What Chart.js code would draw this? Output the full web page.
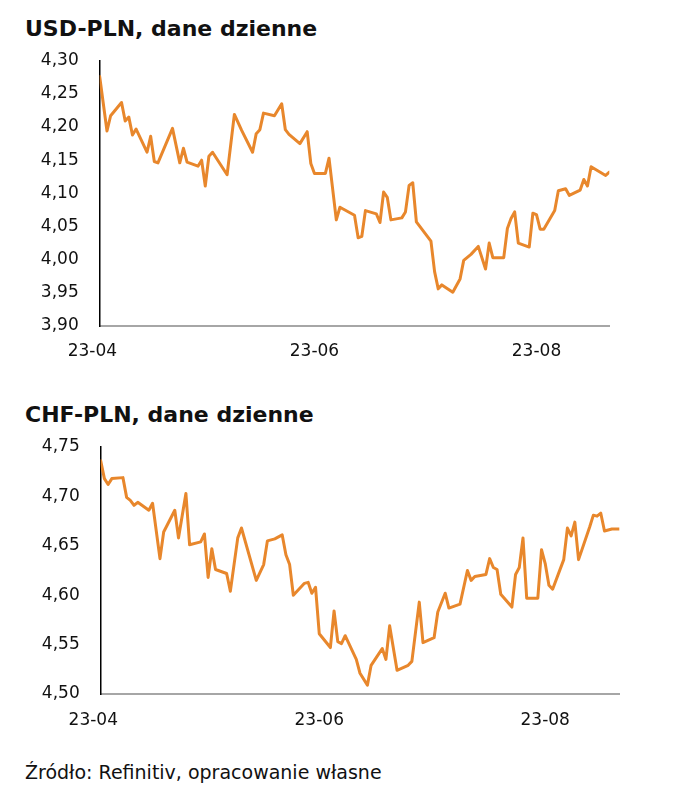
<!DOCTYPE html>
<html>
<head>
<meta charset="utf-8">
<script src="https://cdn.jsdelivr.net/npm/chart.js@4.4.0/dist/chart.umd.min.js"></script>
<style>
  html, body { margin: 0; padding: 0; background: #ffffff; }
  body { width: 674px; height: 800px; position: relative; overflow: hidden; font-family: "DejaVu Sans", Verdana, sans-serif; color: #111; }
  .title { position: absolute; left: 25px; font-weight: bold; font-size: 22px; white-space: nowrap; }
  .src { position: absolute; left: 25px; top: 761px; font-size: 19px; white-space: nowrap; }
  canvas { position: absolute; left: 0; }
</style>
</head>
<body>
<div class="title" style="top:16px">USD-PLN, dane dzienne</div>
<canvas id="c1" width="674" height="380" style="top:0px;width:674px;height:380px"></canvas>
<div class="title" style="top:402px">CHF-PLN, dane dzienne</div>
<canvas id="c2" width="674" height="360" style="top:380px;width:674px;height:360px"></canvas>
<div class="src">Źródło: Refinitiv, opracowanie własne</div>
<script>
// ---- data ----
const usdDates = ["2023-04-03","2023-04-05","2023-04-06","2023-04-09","2023-04-10","2023-04-11","2023-04-12","2023-04-13","2023-04-16","2023-04-17","2023-04-18","2023-04-19","2023-04-23","2023-04-25","2023-04-26","2023-04-27","2023-04-30","2023-05-01","2023-05-02","2023-05-03","2023-05-04","2023-05-08","2023-05-10","2023-05-12","2023-05-15","2023-05-16","2023-05-17","2023-05-18","2023-05-21","2023-05-23","2023-05-24","2023-05-25","2023-05-28","2023-05-30","2023-05-31","2023-06-01","2023-06-04","2023-06-05","2023-06-07","2023-06-08","2023-06-12","2023-06-13","2023-06-14","2023-06-15","2023-06-18","2023-06-19","2023-06-20","2023-06-21","2023-06-22","2023-06-25","2023-06-26","2023-06-27","2023-06-28","2023-06-29","2023-07-03","2023-07-04","2023-07-05","2023-07-06","2023-07-09","2023-07-11","2023-07-12","2023-07-14","2023-07-16","2023-07-18","2023-07-19","2023-07-20","2023-07-23","2023-07-24","2023-07-25","2023-07-26","2023-07-27","2023-07-30","2023-07-31","2023-08-01","2023-08-02","2023-08-03","2023-08-06","2023-08-07","2023-08-09","2023-08-10","2023-08-13","2023-08-14","2023-08-15","2023-08-16","2023-08-20","2023-08-21"];
const usdValues = [4.276,4.194,4.217,4.237,4.209,4.215,4.188,4.197,4.162,4.186,4.148,4.146,4.198,4.146,4.168,4.147,4.141,4.150,4.111,4.156,4.162,4.128,4.219,4.195,4.162,4.190,4.196,4.221,4.217,4.235,4.196,4.189,4.175,4.193,4.145,4.130,4.130,4.153,4.060,4.079,4.067,4.033,4.035,4.074,4.069,4.056,4.102,4.094,4.060,4.063,4.072,4.112,4.116,4.057,4.028,3.982,3.956,3.962,3.951,3.971,3.999,4.008,4.020,3.986,4.025,4.003,4.003,4.047,4.062,4.072,4.025,4.019,4.070,4.068,4.046,4.046,4.074,4.104,4.107,4.097,4.105,4.121,4.111,4.140,4.127,4.132];

const chfDates = ["2023-04-03","2023-04-04","2023-04-05","2023-04-06","2023-04-09","2023-04-10","2023-04-11","2023-04-12","2023-04-13","2023-04-16","2023-04-17","2023-04-19","2023-04-20","2023-04-23","2023-04-24","2023-04-26","2023-04-27","2023-04-30","2023-05-01","2023-05-02","2023-05-03","2023-05-04","2023-05-07","2023-05-08","2023-05-10","2023-05-11","2023-05-15","2023-05-17","2023-05-18","2023-05-20","2023-05-22","2023-05-23","2023-05-24","2023-05-25","2023-05-28","2023-05-29","2023-05-30","2023-05-31","2023-06-01","2023-06-04","2023-06-05","2023-06-06","2023-06-07","2023-06-08","2023-06-11","2023-06-12","2023-06-14","2023-06-15","2023-06-18","2023-06-19","2023-06-20","2023-06-22","2023-06-25","2023-06-26","2023-06-28","2023-06-29","2023-07-02","2023-07-03","2023-07-05","2023-07-06","2023-07-09","2023-07-11","2023-07-12","2023-07-13","2023-07-16","2023-07-17","2023-07-18","2023-07-19","2023-07-20","2023-07-23","2023-07-24","2023-07-25","2023-07-26","2023-07-27","2023-07-30","2023-07-31","2023-08-01","2023-08-02","2023-08-03","2023-08-06","2023-08-07","2023-08-08","2023-08-09","2023-08-10","2023-08-13","2023-08-14","2023-08-15","2023-08-16","2023-08-17","2023-08-19","2023-08-21"];
const chfValues = [4.736,4.718,4.712,4.718,4.719,4.699,4.696,4.691,4.694,4.686,4.693,4.637,4.664,4.686,4.658,4.703,4.651,4.654,4.662,4.618,4.647,4.626,4.622,4.604,4.658,4.668,4.615,4.631,4.655,4.657,4.661,4.641,4.631,4.600,4.612,4.613,4.602,4.608,4.561,4.547,4.584,4.553,4.551,4.559,4.535,4.521,4.509,4.529,4.546,4.535,4.569,4.524,4.529,4.533,4.593,4.552,4.557,4.583,4.602,4.587,4.591,4.625,4.615,4.619,4.621,4.637,4.628,4.626,4.601,4.588,4.621,4.628,4.658,4.597,4.597,4.646,4.632,4.610,4.606,4.636,4.668,4.660,4.674,4.636,4.669,4.681,4.680,4.683,4.665,4.667,4.667];

const xTickDates = ["2023-04-01","2023-06-01","2023-08-01"];
const xTickLabels = ["23-04","23-06","23-08"];
const usdYMin = 3.90, usdYMax = 4.30;
const chfYMin = 4.50, chfYMax = 4.75;
const yStep = 0.05;

// ---- helpers ----
const BASE = Date.UTC(2023, 3, 1);
function dayNum(s) { const p = s.split('-').map(Number); return Math.round((Date.UTC(p[0], p[1]-1, p[2]) - BASE) / 86400000); }
const tickDays = xTickDates.map(dayNum);

const LINE = '#E8872C';
const FONT = { family: '"DejaVu Sans", Verdana, sans-serif', size: 17 };

function makeChart(id, dates, values, yMin, yMax, area, canvasH) {
  const pts = dates.map((d, i) => ({ x: dayNum(d), y: values[i] }));
  return new Chart(document.getElementById(id), {
    type: 'line',
    data: { datasets: [{ data: pts, borderColor: LINE, borderWidth: 3, pointRadius: 0, tension: 0, borderJoinStyle: 'round', borderCapStyle: 'round', fill: false }] },
    options: {
      responsive: false, animation: false, devicePixelRatio: 1,
      layout: { padding: { left: 0, right: 674 - area.right, top: area.top, bottom: 0 } },
      plugins: { legend: { display: false }, tooltip: { enabled: false } },
      scales: {
        x: {
          type: 'linear', min: pts[0].x, max: pts[pts.length - 1].x,
          grid: { display: false, drawTicks: false },
          border: { display: true, color: '#A6A6A6', width: 2 },
          afterFit: (s) => { s.height = canvasH - area.bottom; },
          afterBuildTicks: (s) => { s.ticks = tickDays.map(v => ({ value: v })); },
          ticks: { font: FONT, color: '#111', padding: area.xPad, maxRotation: 0, autoSkip: false,
            callback: (v) => { const i = tickDays.indexOf(v); return i >= 0 ? xTickLabels[i] : ''; } }
        },
        y: {
          min: yMin, max: yMax,
          grid: { display: false, drawTicks: false },
          border: { display: true, color: '#000', width: 1.5 },
          afterFit: (s) => { s.width = area.left; },
          ticks: { stepSize: yStep, font: FONT, color: '#111', padding: 21,
            callback: (v) => Number(v).toFixed(2).replace('.', ',') }
        }
      }
    }
  });
}

makeChart('c1', usdDates, usdValues, usdYMin, usdYMax, { left: 99.7, right: 609.3, top: 60.7, bottom: 326, xPad: 15 }, 380);
makeChart('c2', chfDates, chfValues, chfYMin, chfYMax, { left: 100.7, right: 619.3, top: 67, bottom: 314, xPad: 16 }, 360);
</script>
</body>
</html>
